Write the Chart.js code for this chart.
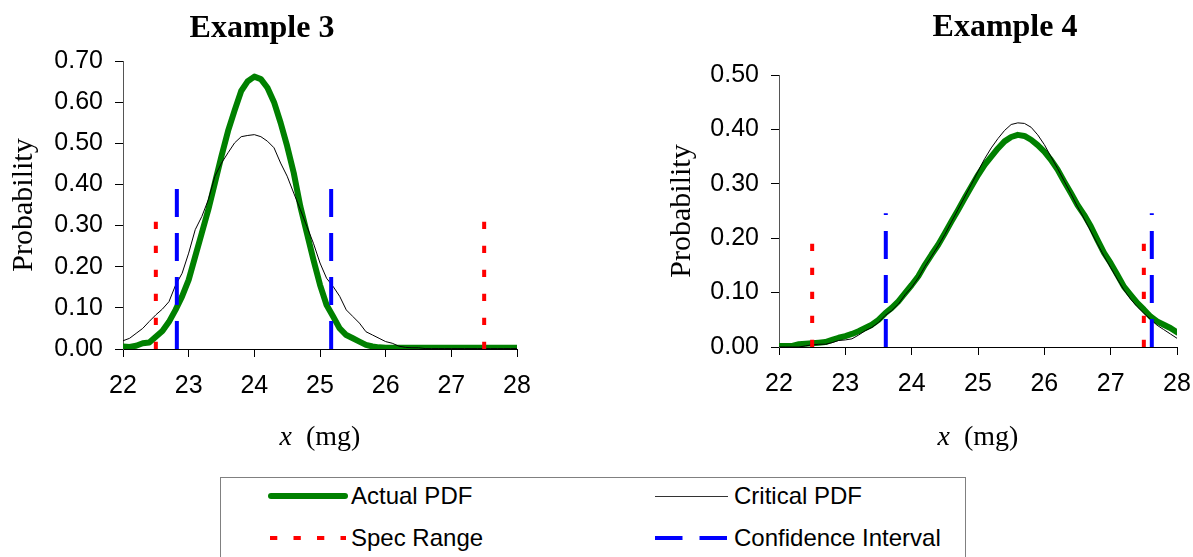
<!DOCTYPE html>
<html><head><meta charset="utf-8">
<script src="https://cdn.jsdelivr.net/npm/chart.js@4.4.1/dist/chart.umd.min.js"></script>
<style>
html,body{margin:0;padding:0;background:#fff;width:1193px;height:557px;overflow:hidden;position:relative;}
canvas{position:absolute;top:0;}
#c1{left:0;}
#c2{left:600px;}
#legend{position:absolute;left:220px;top:477px;width:746px;height:100px;border:1px solid #808080;box-sizing:border-box;background:#fff;font-family:"Liberation Sans",Arial,sans-serif;font-size:24px;color:#000;}
#legend svg{position:absolute;}
#legend .lbl{position:absolute;line-height:30px;white-space:nowrap;}
</style></head>
<body>
<canvas id="c1" width="560" height="470"></canvas>
<canvas id="c2" width="620" height="470"></canvas>
<div id="legend">
  <svg style="left:46px;top:13px" width="82" height="10"><line x1="4" y1="5" x2="78" y2="5" stroke="#008000" stroke-width="6" stroke-linecap="round"/></svg>
  <div class="lbl" style="left:130px;top:3px">Actual PDF</div>
  <svg style="left:49px;top:55px" width="76" height="10"><line x1="0" y1="5" x2="76" y2="5" stroke="#ff0000" stroke-width="4" stroke-dasharray="7.3 16.2"/></svg>
  <div class="lbl" style="left:130px;top:45px">Spec Range</div>
  <svg style="left:434px;top:13px" width="74" height="10"><line x1="0" y1="5.5" x2="73" y2="5.5" stroke="#333" stroke-width="1"/></svg>
  <div class="lbl" style="left:513px;top:3px">Critical PDF</div>
  <svg style="left:434px;top:55px" width="74" height="10"><line x1="0" y1="5" x2="73" y2="5" stroke="#0000ff" stroke-width="4" stroke-dasharray="27.5 17"/></svg>
  <div class="lbl" style="left:513px;top:45px">Confidence Interval</div>
</div>
<script>
// x grid (mg)
const xValues = [22.0,22.1,22.2,22.3,22.4,22.5,22.6,22.7,22.8,22.9,
 23.0,23.1,23.2,23.3,23.4,23.5,23.6,23.7,23.8,23.9,
 24.0,24.1,24.2,24.3,24.4,24.5,24.6,24.7,24.8,24.9,
 25.0,25.1,25.2,25.3,25.4,25.5,25.6,25.7,25.8,25.9,
 26.0,26.1,26.2,26.3,26.4,26.5,26.6,26.7,26.8,26.9,
 27.0,27.1,27.2,27.3,27.4,27.5,27.6,27.7,27.8,27.9,
 28.0];

// Example 3
const ex3Actual = [0.006,0.005,0.008,0.014,0.016,0.030,0.044,0.066,0.095,0.128,
 0.168,0.225,0.282,0.339,0.404,0.469,0.530,0.580,0.627,0.651,
 0.662,0.656,0.635,0.600,0.550,0.493,0.428,0.347,0.282,0.217,
 0.156,0.107,0.079,0.050,0.034,0.026,0.018,0.010,0.006,0.004,
 0.003,0.003,0.003,0.003,0.003,0.003,0.003,0.003,0.003,0.003,
 0.003,0.003,0.003,0.003,0.003,0.003,0.003,0.003,0.003,0.003,
 0.003];
const ex3Critical = [0.020,0.026,0.038,0.050,0.067,0.083,0.097,0.115,0.155,0.184,
 0.233,0.290,0.322,0.363,0.420,0.452,0.477,0.501,0.516,0.519,
 0.521,0.516,0.505,0.489,0.452,0.420,0.379,0.339,0.298,0.257,
 0.209,0.172,0.152,0.128,0.095,0.079,0.063,0.042,0.034,0.026,
 0.018,0.014,0.007,0.004,0.003,0.003,0.001,0.001,0.001,0.001,
 0.001,0.001,0.001,0.001,0.001,0.001,0.001,0.001,0.001,0.001,
 0.001];
const ex3Spec = [22.5, 27.5];
const ex3SpecHeight = 0.312;
const ex3CI = [22.82, 25.17];
const ex3CIHeight = 0.389;
const ex3YTicks = [0.00,0.10,0.20,0.30,0.40,0.50,0.60,0.70];

// Example 4
const ex4Actual = [0.002,0.002,0.002,0.005,0.006,0.007,0.008,0.009,0.013,0.017,
 0.020,0.024,0.029,0.035,0.041,0.050,0.062,0.072,0.084,0.099,
 0.114,0.130,0.151,0.170,0.188,0.209,0.231,0.252,0.274,0.295,
 0.316,0.335,0.350,0.365,0.378,0.386,0.390,0.388,0.381,0.371,
 0.359,0.344,0.326,0.304,0.283,0.261,0.243,0.222,0.197,0.173,
 0.154,0.133,0.111,0.096,0.081,0.069,0.056,0.047,0.041,0.035,
 0.027];
const ex4Critical = [0.000,0.000,0.000,0.000,0.002,0.004,0.005,0.005,0.008,0.012,
 0.013,0.015,0.022,0.030,0.036,0.045,0.058,0.067,0.079,0.096,
 0.110,0.127,0.148,0.167,0.186,0.207,0.230,0.253,0.276,0.299,
 0.323,0.346,0.366,0.383,0.398,0.409,0.412,0.411,0.404,0.390,
 0.372,0.350,0.328,0.305,0.282,0.258,0.236,0.213,0.190,0.167,
 0.146,0.125,0.105,0.088,0.074,0.062,0.051,0.040,0.032,0.024,
 0.016];
const ex4Spec = [22.5, 27.5];
const ex4SpecHeight = 0.192;
const ex4CI = [23.61, 27.62];
const ex4CIHeight = 0.246;
const ex4YTicks = [0.00,0.10,0.20,0.30,0.40,0.50];

const xTicks = [22,23,24,25,26,27,28];

Chart.defaults.font.family = '"Liberation Sans", Arial, sans-serif';
Chart.defaults.color = '#000';

const pts = (ys) => xValues.map((x,i)=>({x:x, y:ys[i]}));
const vline = (x,h) => [{x:x,y:0},{x:x,y:h}];

function datasets(actual, critical, spec, specH, ci, ciH){
  const ds = [];
  ci.forEach(x => ds.push({data:vline(x,ciH), borderColor:'#0000ff', borderWidth:4, borderDash:[28,16], order:0}));
  spec.forEach(x => ds.push({data:vline(x,specH), borderColor:'#ff0000', borderWidth:4, borderDash:[7.3,16.7], order:1}));
  ds.push({data:pts(critical), borderColor:'#000000', borderWidth:1, order:2});
  ds.push({data:pts(actual), borderColor:'#008000', borderWidth:6, borderJoinStyle:'round', borderCapStyle:'round', order:3});
  ds.forEach(d=>{d.showLine=true; d.pointRadius=0; d.pointHoverRadius=0; d.tension=0; d.fill=false;});
  return ds;
}

function scales(yTicks, yWidth){
  const ymax = yTicks[yTicks.length-1];
  return {
    x:{type:'linear', min:xTicks[0], max:xTicks[xTicks.length-1],
       afterBuildTicks(s){ s.ticks = xTicks.map(v=>({value:v})); },
       ticks:{font:{size:25}, color:'#000', padding:14, maxRotation:0, autoSkip:false, callback:v=>String(v)},
       grid:{drawOnChartArea:false, drawTicks:true, tickLength:8, color:'#000'},
       border:{color:'#000', width:1},
       afterFit(s){ s.height = 60; }},
    y:{type:'linear', min:0, max:ymax,
       afterBuildTicks(s){ s.ticks = yTicks.map(v=>({value:v})); },
       ticks:{font:{size:25}, color:'#000', padding:12, callback:v=>Number(v).toFixed(2)},
       grid:{drawOnChartArea:false, drawTicks:true, tickLength:8, color:'#000'},
       border:{color:'#555', width:1},
       afterFit(s){ s.width = yWidth; }}
  };
}

function labelsPlugin(title, tx, ty, ylx, xtBase){
  return {
    id:'labels',
    afterDraw(chart){
      const ctx = chart.ctx, a = chart.chartArea;
      ctx.save();
      ctx.fillStyle = '#000';
      // title
      ctx.font = 'bold 32px "Liberation Serif", "Times New Roman", serif';
      ctx.textAlign = 'center'; ctx.textBaseline = 'alphabetic';
      ctx.fillText(title, tx, ty);
      // y title
      ctx.save();
      ctx.translate(ylx, (a.top+a.bottom)/2);
      ctx.rotate(-Math.PI/2);
      ctx.font = '30px "Liberation Serif", "Times New Roman", serif';
      ctx.textBaseline = 'middle';
      ctx.fillText('Probability', 0, 0);
      ctx.restore();
      // x title: italic x + (mg)
      const f1 = 'italic 28px "Liberation Serif", "Times New Roman", serif';
      const f2 = '28px "Liberation Serif", "Times New Roman", serif';
      ctx.font = f1; const w1 = ctx.measureText('x').width;
      ctx.font = f2; const w2 = ctx.measureText('  (mg)').width;
      const cx = (a.left+a.right)/2;
      let x0 = cx - (w1+w2)/2;
      ctx.textAlign = 'left';
      ctx.font = f1; ctx.fillText('x', x0, xtBase);
      ctx.font = f2; ctx.fillText('  (mg)', x0+w1, xtBase);
      ctx.restore();
    }
  };
}

function makeChart(id, actual, critical, spec, specH, ci, ciH, yTicks, yWidth, pad, plug){
  return new Chart(document.getElementById(id), {
    type:'scatter',
    data:{datasets: datasets(actual, critical, spec, specH, ci, ciH)},
    options:{
      responsive:false, animation:false, devicePixelRatio:1,
      layout:{padding:pad},
      plugins:{legend:{display:false}, tooltip:{enabled:false}, title:{display:false}},
      scales: scales(yTicks, yWidth),
      elements:{line:{borderCapStyle:'butt'}}
    },
    plugins:[plug]
  });
}

makeChart('c1', ex3Actual, ex3Critical, ex3Spec, ex3SpecHeight, ex3CI, ex3CIHeight, ex3YTicks, 123,
  {left:0, top:61, right:43, bottom:61}, labelsPlugin('Example 3', 262, 37, 24, 445));
makeChart('c2', ex4Actual, ex4Critical, ex4Spec, ex4SpecHeight, ex4CI, ex4CIHeight, ex4YTicks, 179,
  {left:0, top:75, right:43, bottom:63}, labelsPlugin('Example 4', 405, 36, 82, 445));
</script>
</body></html>
